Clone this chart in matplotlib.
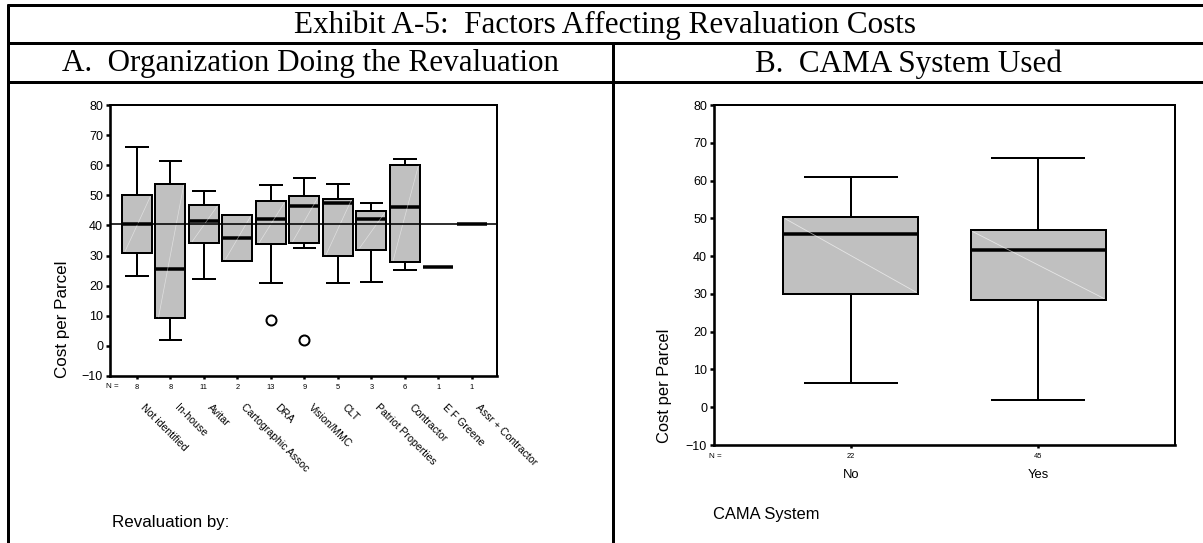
import matplotlib
matplotlib.use("Agg")
import matplotlib.pyplot as plt
from matplotlib.lines import Line2D

W, H = 1203, 543
DPI = 100

# ---------------- data ----------------
org_labels = ["Not identified", "In-house", "Avitar", "Cartographic Assoc", "DRA",
              "Vision/MMC", "CLT", "Patriot Properties", "Contractor", "E F Greene",
              "Assr + Contractor"]
org_n = [8, 8, 11, 2, 13, 9, 5, 3, 6, 1, 1]
org_whislo = [23.3, 2.0, 22.3, 28.3, 20.8, 32.4, 20.8, 21.3, 25.1, 26.1, 40.6]
org_q1 = [30.9, 9.1, 34.1, 28.3, 33.7, 34.1, 29.8, 32.0, 27.8, 26.1, 40.6]
org_med = [40.5, 25.6, 41.4, 35.8, 42.1, 46.3, 47.4, 42.0, 46.1, 26.1, 40.6]
org_q3 = [50.0, 53.9, 46.9, 43.6, 48.0, 49.7, 48.9, 44.7, 60.2, 26.1, 40.6]
org_whishi = [66.1, 61.3, 51.6, 43.6, 53.3, 55.6, 53.8, 47.3, 62.0, 26.1, 40.6]
org_outliers = [[], [], [], [], [8.5], [2.0], [], [], [], [], []]
overall_ref = 40.5

cama_labels = ["No", "Yes"]
cama_n = [22, 45]
cama_whislo = [6.4, 2.0]
cama_q1 = [30.0, 28.4]
cama_med = [45.8, 41.5]
cama_q3 = [50.3, 46.9]
cama_whishi = [60.9, 66.0]

yticks = [-10, 0, 10, 20, 30, 40, 50, 60, 70, 80]

# ---------------- helpers ----------------
def fx(px):
    return px / W

def fy(py):
    return 1 - py / H

def pt(px):
    return px * 72.0 / DPI

SANS = ["Liberation Sans", "DejaVu Sans"]
NARROW = ["Liberation Sans Narrow", "Liberation Sans", "DejaVu Sans"]
SERIF = ["Liberation Serif", "DejaVu Serif"]

fig = plt.figure(figsize=(W / DPI, H / DPI), dpi=DPI)
fig.patch.set_facecolor("white")

# ---------------- table frame ----------------
lw_frame = pt(3)
def hline(y, x0, x1):
    fig.add_artist(Line2D([fx(x0), fx(x1)], [fy(y), fy(y)], color="black",
                          lw=lw_frame, transform=fig.transFigure, solid_capstyle="butt"))
def vline(x, y0, y1):
    fig.add_artist(Line2D([fx(x), fx(x)], [fy(y0), fy(y1)], color="black",
                          lw=lw_frame, transform=fig.transFigure, solid_capstyle="butt"))

hline(5, 6.5, W)
hline(43, 6.5, W)
hline(82, 6.5, W)
vline(8, 3.5, H)
vline(613, 43, H)

HEAD = 31.2
fig.text(fx(605), fy(25), "Exhibit A-5:  Factors Affecting Revaluation Costs",
         family=SERIF, fontsize=pt(HEAD), ha="center", va="center")
fig.text(fx(311), fy(64), "A.  Organization Doing the Revaluation",
         family=SERIF, fontsize=pt(HEAD), ha="center", va="center")
fig.text(fx(908), fy(64), "B.  CAMA System Used",
         family=SERIF, fontsize=pt(HEAD), ha="center", va="center")


def make_stats(lo, q1, med, q3, hi, fl=None):
    stats = []
    for i in range(len(lo)):
        stats.append(dict(whislo=lo[i], q1=q1[i], med=med[i], q3=q3[i],
                          whishi=hi[i], fliers=(fl[i] if fl else [])))
    return stats


def style_axes(ax):
    for s in ax.spines.values():
        s.set_linewidth(pt(2))
        s.set_color("black")
    ax.spines["left"].set_linewidth(pt(2.6))
    ax.spines["bottom"].set_linewidth(pt(2.6))
    ax.set_ylim(-10, 80)
    ax.set_yticks(yticks)
    ax.tick_params(axis="y", direction="out", length=3, width=pt(2.5),
                   labelsize=pt(12.5), pad=2)
    for lab in ax.get_yticklabels():
        lab.set_family(SANS)


BOXPROPS = dict(facecolor="#c0c0c0", edgecolor="black", linewidth=pt(2))
MEDPROPS = dict(color="black", linewidth=pt(3.5), solid_capstyle="butt")
LINEPROPS = dict(color="black", linewidth=pt(2))

# ---------------- panel A ----------------
axA = fig.add_axes([fx(110), fy(376), fx(497) - fx(110), fy(105) - fy(376)])
posA = list(range(1, len(org_labels) + 1))
wA = 0.9
statsA = make_stats(org_whislo, org_q1, org_med, org_q3, org_whishi, org_outliers)
axA.bxp(statsA, positions=posA, widths=wA, patch_artist=True, showfliers=True,
        boxprops=BOXPROPS, medianprops=MEDPROPS, whiskerprops=LINEPROPS,
        capprops=LINEPROPS, capwidths=0.64,
        flierprops=dict(marker="o", markerfacecolor="white", markeredgecolor="black",
                        markersize=pt(10), markeredgewidth=pt(2)))
# faint streaks inside the boxes (rendering artefact of the original)
for p, lo, hi in zip(posA, org_q1, org_q3):
    if hi - lo > 1:
        axA.plot([p + wA / 2 - 0.05, p - wA / 2 + 0.1], [hi - 0.5, lo + 0.5],
                 color="white", lw=0.5, alpha=0.5, zorder=2.5)
axA.axhline(overall_ref, color="black", lw=pt(1.6), zorder=5)
axA.set_xlim(0.2, 11.75)
style_axes(axA)
axA.set_xticks(posA)
axA.set_xticklabels([str(n) for n in org_n], family=SANS, fontsize=pt(7.5))
axA.tick_params(axis="x", direction="out", length=2, width=pt(2.5), pad=4)
axA.annotate("N =", xy=(0, 0), xycoords="axes fraction", xytext=(2, -7),
             textcoords="offset pixels", family=SANS, fontsize=pt(8),
             ha="center", va="top")
for p, lab in zip(posA, org_labels):
    axA.annotate(lab, xy=(p, 0), xycoords=("data", "axes fraction"),
                 xytext=(9, -26), textcoords="offset pixels",
                 rotation=-45, rotation_mode="anchor", ha="left", va="top",
                 family=NARROW, fontsize=pt(10.5))
fig.text(fx(63), fy(378), "Cost per Parcel", rotation=90, family=SANS,
         fontsize=pt(17), ha="center", va="bottom")
fig.text(fx(112), fy(522), "Revaluation by:", family=SANS, fontsize=pt(17),
         ha="left", va="center")

# ---------------- panel B ----------------
axB = fig.add_axes([fx(714), fy(445), fx(1175) - fx(714), fy(105) - fy(445)])
posB = [1, 2]
wB = 0.72
statsB = make_stats(cama_whislo, cama_q1, cama_med, cama_q3, cama_whishi)
axB.bxp(statsB, positions=posB, widths=wB, patch_artist=True, showfliers=False,
        boxprops=BOXPROPS, medianprops=MEDPROPS, whiskerprops=LINEPROPS,
        capprops=LINEPROPS, capwidths=0.49)
for p, lo, hi in zip(posB, cama_q1, cama_q3):
    axB.plot([p - wB / 2 + 0.01, p + wB / 2 - 0.01], [hi - 0.4, lo + 0.4],
             color="white", lw=0.6, alpha=0.6, zorder=2.5)
axB.set_xlim(0.27, 2.73)
style_axes(axB)
axB.set_xticks(posB)
axB.set_xticklabels([str(n) for n in cama_n], family=SANS, fontsize=pt(7.5))
axB.tick_params(axis="x", direction="out", length=2, width=pt(2.5), pad=4)
axB.annotate("N =", xy=(0, 0), xycoords="axes fraction", xytext=(1, -8),
             textcoords="offset pixels", family=SANS, fontsize=pt(8),
             ha="center", va="top")
for p, lab in zip(posB, cama_labels):
    axB.annotate(lab, xy=(p, 0), xycoords=("data", "axes fraction"),
                 xytext=(0, -24), textcoords="offset pixels",
                 ha="center", va="top", family=SANS, fontsize=pt(13))
fig.text(fx(665), fy(443), "Cost per Parcel", rotation=90, family=SANS,
         fontsize=pt(16.5), ha="center", va="bottom")
fig.text(fx(713), fy(515), "CAMA System", family=SANS, fontsize=pt(16.5),
         ha="left", va="center")

fig.savefig("out.png", dpi=DPI, facecolor="white")
